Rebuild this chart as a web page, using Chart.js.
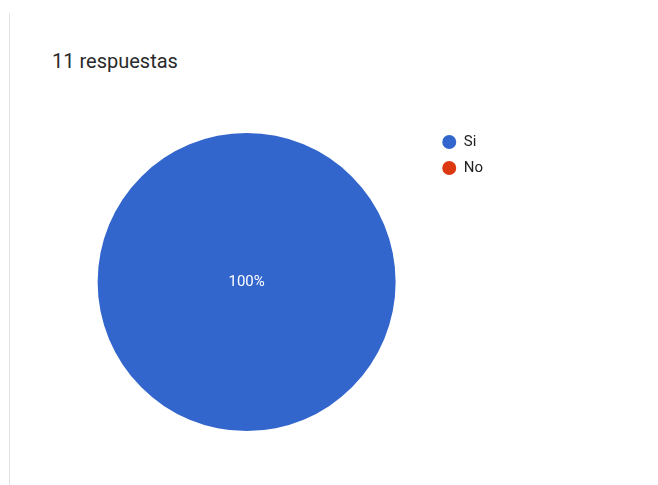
<!DOCTYPE html>
<html>
<head>
<meta charset="utf-8">
<script src="https://cdn.jsdelivr.net/npm/chart.js@4/dist/chart.umd.min.js"></script>
<style>
  html, body { margin: 0; padding: 0; background: #fff; }
  body { width: 658px; height: 485px; position: relative; overflow: hidden; font-family: Roboto, Arial, sans-serif; }
  .card-edge { position: absolute; left: 9px; top: 13px; width: 1px; height: 472px; background: #e3e3e3; }
  .summary { position: absolute; left: 52px; top: 51px; font-size: 20px; line-height: 20px; color: #2a2a2a; }
  #wrap { position: absolute; left: 0; top: 0; width: 658px; height: 485px; }
</style>
</head>
<body>
<div class="card-edge"></div>
<div class="summary">11 respuestas</div>
<div id="wrap"><canvas id="pie"></canvas></div>
<script>
const answers = ['Si', 'No'];
const counts = [11, 0];
const sliceColors = ['#3366cc', '#dc3912'];

// writes the share of each slice on top of it, Google Forms style
const percentLabels = {
  id: 'percentLabels',
  afterDatasetsDraw(chart) {
    const { ctx } = chart;
    const data = chart.data.datasets[0].data;
    const total = data.reduce((a, b) => a + b, 0);
    const meta = chart.getDatasetMeta(0);
    ctx.save();
    ctx.font = '15px Roboto, Arial, sans-serif';
    ctx.fillStyle = '#ffffff';
    ctx.textAlign = 'center';
    ctx.textBaseline = 'middle';
    meta.data.forEach((arc, i) => {
      if (!data[i]) return;
      const share = data[i] / total;
      let pos;
      if (share === 1) {
        pos = { x: arc.x, y: arc.y };
      } else {
        const mid = (arc.startAngle + arc.endAngle) / 2;
        const r = arc.outerRadius * 0.6;
        pos = { x: arc.x + Math.cos(mid) * r, y: arc.y + Math.sin(mid) * r };
      }
      ctx.fillText(Math.round(share * 100) + '%', pos.x, pos.y);
    });
    ctx.restore();
  }
};

new Chart(document.getElementById('pie'), {
  type: 'pie',
  data: {
    labels: answers,
    datasets: [{
      data: counts,
      backgroundColor: sliceColors,
      borderWidth: 0
    }]
  },
  plugins: [percentLabels],
  options: {
    responsive: true,
    maintainAspectRatio: false,
    animation: false,
    radius: 149,
    layout: { padding: { left: 62, top: 123.5, right: 165, bottom: 44.5 } },
    plugins: {
      tooltip: { enabled: false },
      legend: {
        position: 'right',
        align: 'start',
        labels: {
          usePointStyle: true,
          pointStyle: 'circle',
          pointStyleWidth: 14,
          boxHeight: 10,
          padding: 11,
          color: '#222222',
          font: { family: 'Roboto, Arial, sans-serif', size: 15 }
        }
      }
    }
  }
});
</script>
</body>
</html>
